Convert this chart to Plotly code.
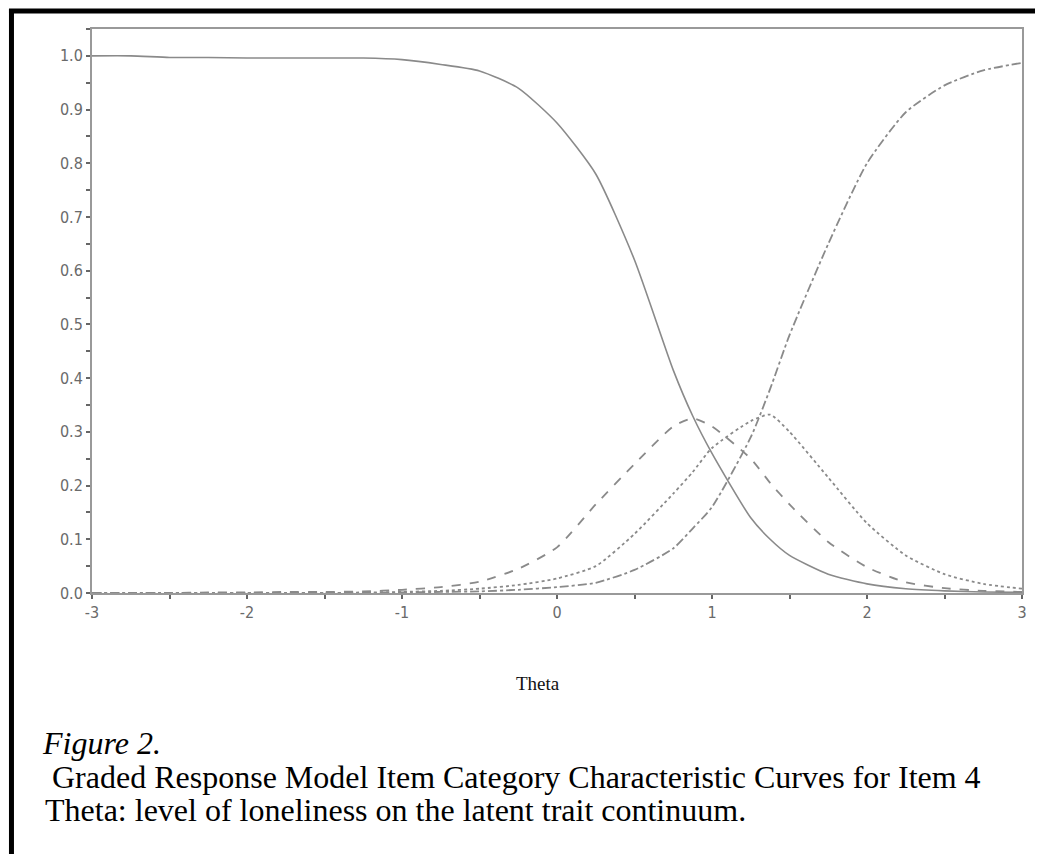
import plotly.graph_objects as go

# ---- data ----
theta = [-3.0, -2.75, -2.5, -2.25, -2.0, -1.75, -1.5, -1.25, -1.0, -0.75, -0.5, -0.25,
         0.0, 0.25, 0.5, 0.75, 0.875, 1.0, 1.25, 1.375, 1.5, 1.75, 2.0, 2.25, 2.5, 2.75, 3.0]

cat1_solid = [1.0, 1.0, 0.997, 0.997, 0.996, 0.996, 0.996, 0.996, 0.993, 0.984, 0.972, 0.94,
              0.875, 0.78, 0.62, 0.415, 0.33, 0.26, 0.14, 0.10, 0.07, 0.035, 0.017, 0.008, 0.004, 0.002, 0.001]
cat2_dash = [0.0, 0.0, 0.0, 0.001, 0.001, 0.002, 0.002, 0.003, 0.006, 0.011, 0.021, 0.045,
             0.085, 0.165, 0.24, 0.31, 0.325, 0.31, 0.25, 0.205, 0.165, 0.095, 0.048, 0.02, 0.009, 0.004, 0.002]
cat3_dot = [0.0, 0.0, 0.0, 0.0, 0.0, 0.0, 0.0, 0.001, 0.002, 0.004, 0.008, 0.015,
            0.027, 0.05, 0.11, 0.185, 0.225, 0.27, 0.32, 0.332, 0.30, 0.215, 0.13, 0.07, 0.035, 0.017, 0.008]
cat4_dashdot = [0.0, 0.0, 0.0, 0.0, 0.0, 0.0, 0.0, 0.0, 0.001, 0.002, 0.003, 0.006,
                0.011, 0.019, 0.043, 0.083, 0.12, 0.16, 0.29, 0.38, 0.48, 0.65, 0.80, 0.895, 0.945, 0.973, 0.987]

y_ticks = [0.0, 0.1, 0.2, 0.3, 0.4, 0.5, 0.6, 0.7, 0.8, 0.9, 1.0]
x_ticks = [-3, -2, -1, 0, 1, 2, 3]

x_title = "Theta"
caption_fig = "Figure 2."
caption_1 = "Graded Response Model Item Category Characteristic Curves for Item 4"
caption_2 = "Theta: level of loneliness on the latent trait continuum."

# ---- layout constants (page has an 8px body margin) ----
OFF = 8
W, H = 1043 - OFF, 854 - OFF
ML, MT = 92 - OFF, 29 - OFF
PLOT_R, PLOT_B = 1021.7 - OFF, 592.7 - OFF
MR = W - PLOT_R
MB = H - PLOT_B
PW = W - ML - MR
PH = H - MT - MB


def px(x):
    # x given in screenshot pixels
    return (x - OFF - ML) / PW


def py(y):
    # y given in screenshot pixels
    return (PLOT_B - (y - OFF)) / PH


line_col = "#8a8a8a"
fig = go.Figure()
for vals, dash, w in [(cat1_solid, "solid", 1.6), (cat2_dash, "dash", 1.8),
                      (cat3_dot, "dot", 1.8), (cat4_dashdot, "dashdot", 1.8)]:
    fig.add_trace(go.Scatter(x=theta, y=vals, mode="lines",
                             line=dict(color=line_col, width=w, dash=dash, shape="spline", smoothing=0.6),
                             showlegend=False, hoverinfo="skip"))

axis_common = dict(showline=True, linecolor="#999999", linewidth=2, mirror=True,
                   showgrid=False, zeroline=False, ticks="outside", ticklen=4,
                   tickcolor="#666666", tickwidth=1.5,
                   tickfont=dict(family="Liberation Sans Narrow, DejaVu Sans Condensed, sans-serif",
                                 size=16, color="#6a6a6a"))

fig.update_xaxes(range=[-3, 3], tickvals=x_ticks, ticktext=[str(v) for v in x_ticks],
                 minor=dict(dtick=0.5, ticks="outside", ticklen=4, tickcolor="#666666", tickwidth=1.5),
                 **axis_common)
fig.update_yaxes(range=[0, 1.05], tickvals=y_ticks, ticktext=[f"{v:.1f}" for v in y_ticks],
                 minor=dict(dtick=0.05, ticks="outside", ticklen=4, tickcolor="#666666", tickwidth=1.5),
                 **axis_common)

serif = "Liberation Serif, Times New Roman, serif"
annotations = [
    dict(text=x_title, x=px(538), y=py(683), xanchor="center", yanchor="middle",
         font=dict(family=serif, size=19, color="#111111")),
    dict(text=f"<i>{caption_fig}</i>", x=px(40), y=py(743), xanchor="left", yanchor="middle",
         font=dict(family=serif, size=32, color="#000000")),
    dict(text=caption_1, x=px(50), y=py(777), xanchor="left", yanchor="middle",
         font=dict(family=serif, size=32, color="#000000")),
    dict(text=caption_2, x=px(43), y=py(810), xanchor="left", yanchor="middle",
         font=dict(family=serif, size=32, color="#000000")),
]
for a in annotations:
    a.update(xref="paper", yref="paper", showarrow=False)

shapes = [
    # outer black frame: top and left
    dict(type="line", xref="paper", yref="paper", x0=px(9), x1=px(1043 + 5), y0=py(11), y1=py(11),
         line=dict(color="black", width=5)),
    dict(type="line", xref="paper", yref="paper", x0=px(11.5), x1=px(11.5), y0=py(9), y1=py(854 + 5),
         line=dict(color="black", width=5)),
]

fig.update_layout(width=W, height=H, margin=dict(l=ML, r=MR, t=MT, b=MB),
                  paper_bgcolor="white", plot_bgcolor="white",
                  annotations=annotations, shapes=shapes, showlegend=False)

fig.write_html("out.html")
